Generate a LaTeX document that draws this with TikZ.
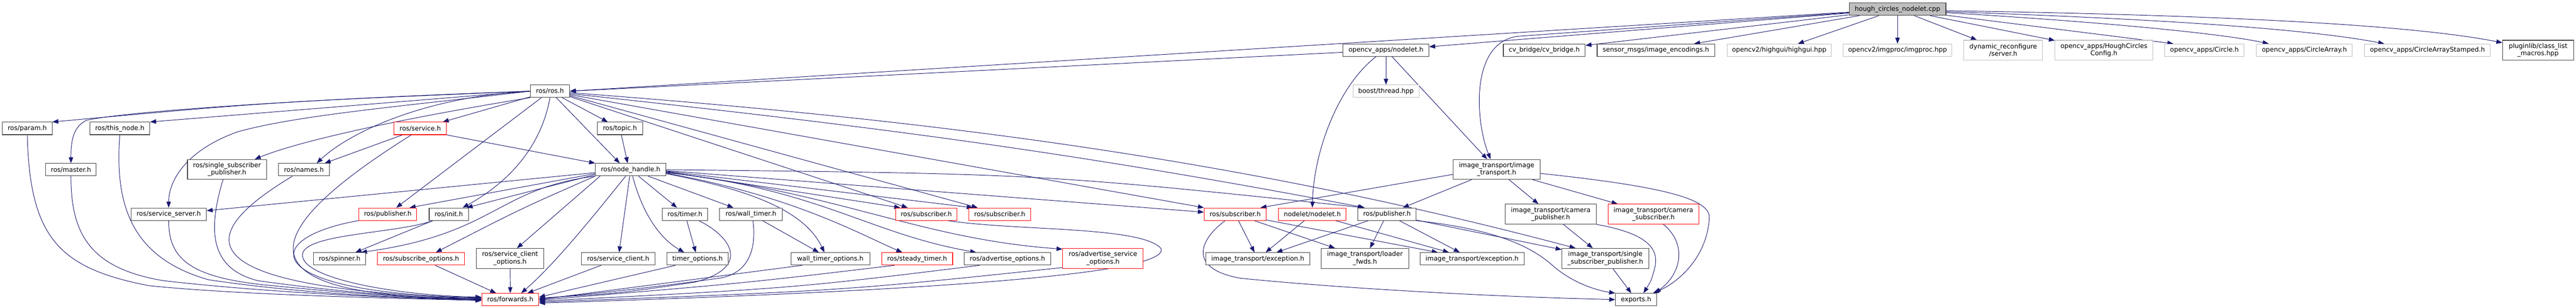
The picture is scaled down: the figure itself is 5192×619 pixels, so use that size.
\documentclass[tikz,border=0pt]{standalone}
\usepackage{fontspec}
\setmainfont{DejaVu Sans}
\usetikzlibrary{arrows.meta,calc}
\pgfdeclarelayer{bg}
\pgfsetlayers{bg,main}
\definecolor{edgec}{HTML}{191970}
\definecolor{nodeb}{HTML}{404040}
\definecolor{greyb}{HTML}{BFBFBF}
\definecolor{redb}{HTML}{FF0000}
\definecolor{rootf}{HTML}{BFBFBF}
\newcommand\dxfont{\fontsize{13pt}{14.7pt}\selectfont}
\tikzset{
  nbox/.style={draw=nodeb, line width=1.1pt, fill=white, inner sep=0pt, align=center, font=\dxfont, text=black, minimum height=25pt},
  dbl/.style={minimum height=40pt},
  gbox/.style={nbox, draw=greyb},
  rbox/.style={nbox, draw=redb},
  edge/.style={draw=edgec, line width=1pt, -{Triangle[length=12pt,width=9pt]}},
}
\begin{document}
\begin{tikzpicture}[x=1pt,y=-1pt]
\useasboundingbox (0,0) rectangle (5192,619);
% ---- nodes ----
\node[nbox, fill=rootf, minimum width=195pt] (H) at (3824.5,18.5) {hough\_circles\_nodelet.cpp};
\node[nbox, minimum width=173pt] (N1) at (2793.5,101) {opencv\_apps/nodelet.h};
\node[nbox, minimum width=165pt] (N2) at (3112.5,101) {cv\_bridge/cv\_bridge.h};
\node[nbox, minimum width=237pt] (N3) at (3337.5,101) {sensor\_msgs/image\_encodings.h};
\node[gbox, minimum width=210pt] (N4) at (3586,101) {opencv2/highgui/highgui.hpp};
\node[gbox, minimum width=219pt] (N5) at (3824.5,101) {opencv2/imgproc/imgproc.hpp};
\node[gbox, dbl, minimum width=159pt] (N6) at (4037.5,101) {dynamic\_reconfigure\\/server.h};
\node[gbox, dbl, minimum width=197pt] (N7) at (4240.5,101) {opencv\_apps/HoughCircles\\Config.h};
\node[gbox, minimum width=160pt] (N8) at (4443,101) {opencv\_apps/Circle.h};
\node[gbox, minimum width=193pt] (N9) at (4644.5,101) {opencv\_apps/CircleArray.h};
\node[gbox, minimum width=253pt] (N10) at (4892.5,101) {opencv\_apps/CircleArrayStamped.h};
\node[nbox, dbl, minimum width=143pt] (N11) at (5115.5,101) {pluginlib/class\_list\\\_macros.hpp};
\node[nbox, minimum width=79pt] (R) at (1108.5,183.5) {ros/ros.h};
\node[gbox, minimum width=133pt] (BT) at (2793.5,183.5) {boost/thread.hpp};
\node[nbox, minimum width=100pt] (P) at (55,258.5) {ros/param.h};
\node[nbox, minimum width=121pt] (T) at (241.5,258.5) {ros/this\_node.h};
\node[rbox, minimum width=106pt] (SV) at (847,258.5) {ros/service.h};
\node[nbox, minimum width=91pt] (TP) at (1249.5,258.5) {ros/topic.h};
\node[nbox, minimum width=102pt] (M) at (143,341.5) {ros/master.h};
\node[nbox, dbl, minimum width=159pt] (SSP1) at (457.5,341) {ros/single\_subscriber\\\_publisher.h};
\node[nbox, minimum width=103pt] (NM) at (612.5,341.5) {ros/names.h};
\node[nbox, minimum width=142pt] (NH) at (1271,341.5) {ros/node\_handle.h};
\node[nbox, dbl, minimum width=175pt] (IT) at (3016.5,341) {image\_transport/image\\\_transport.h};
\node[nbox, minimum width=152pt] (SS) at (340,431) {ros/service\_server.h};
\node[rbox, minimum width=117pt] (PB) at (781.5,431) {ros/publisher.h};
\node[nbox, minimum width=79pt] (IN) at (904.5,431) {ros/init.h};
\node[nbox, minimum width=91pt] (TM) at (1380.5,431) {ros/timer.h};
\node[nbox, minimum width=127pt] (WT) at (1513.5,431) {ros/wall\_timer.h};
\node[rbox, minimum width=124pt] (S1) at (1867,431) {ros/subscriber.h};
\node[rbox, minimum width=124pt] (S2) at (2015,431) {ros/subscriber.h};
\node[rbox, minimum width=125pt] (S3) at (2489.5,431) {ros/subscriber.h};
\node[rbox, minimum width=136pt] (NL) at (2645,431) {nodelet/nodelet.h};
\node[nbox, minimum width=117pt] (PB2) at (2795.5,431) {ros/publisher.h};
\node[nbox, dbl, minimum width=183pt] (CP) at (3125.5,431) {image\_transport/camera\\\_publisher.h};
\node[rbox, dbl, minimum width=183pt] (CS) at (3332.5,431) {image\_transport/camera\\\_subscriber.h};
\node[nbox, minimum width=105pt] (SP) at (684.5,521) {ros/spinner.h};
\node[rbox, minimum width=175pt] (SO) at (848.5,521) {ros/subscribe\_options.h};
\node[nbox, dbl, minimum width=136pt] (SCO) at (1028,520) {ros/service\_client\\\_options.h};
\node[nbox, minimum width=148pt] (SC) at (1246,521) {ros/service\_client.h};
\node[nbox, minimum width=124pt] (TO) at (1406,521) {timer\_options.h};
\node[nbox, minimum width=159pt] (WTO) at (1673.5,521) {wall\_timer\_options.h};
\node[rbox, minimum width=143pt] (ST) at (1848.5,521) {ros/steady\_timer.h};
\node[nbox, minimum width=175pt] (AO) at (2030.5,521) {ros/advertise\_options.h};
\node[rbox, dbl, minimum width=162pt] (ASO) at (2223,520) {ros/advertise\_service\\\_options.h};
\node[nbox, minimum width=210pt] (E1) at (2535,521) {image\_transport/exception.h};
\node[nbox, dbl, minimum width=176pt] (LF) at (2751,520) {image\_transport/loader\\\_fwds.h};
\node[nbox, minimum width=210pt] (E2) at (2967,521) {image\_transport/exception.h};
\node[nbox, dbl, minimum width=175pt] (SSP2) at (3235.5,520) {image\_transport/single\\\_subscriber\_publisher.h};
\node[rbox, minimum width=115pt] (FW) at (1028.5,603) {ros/forwards.h};
\node[nbox, minimum width=83pt] (EX) at (3297.5,603) {exports.h};
% ---- edges ----
\begin{pgfonlayer}{bg}
\fill[white] (0,0) rectangle (5192,619);
% from root
\draw[edge] (H) -- (R.east);
\draw[edge] (H) -- (N1);
\draw[edge] (H) -- (3060,73) .. controls (2960,85) and (2975,250) .. ($(IT.north)+(-12,0)$);
\draw[edge] (H) -- (N2);
\draw[edge] (H) -- (N3);
\draw[edge] (H) -- (N4);
\draw[edge] (H) -- (N5);
\draw[edge] (H) -- (N6);
\draw[edge] (H) -- (N7);
\draw[edge] (H) -- ($(N8.north west)+(18,0)$);
\draw[edge] ($(H.east)+(0,7)$) .. controls (4250,45) and (4480,68) .. ($(N9.north west)+(25,0)$);
\draw[edge] ($(H.east)+(0,5)$) .. controls (4350,38) and (4650,58) .. ($(N10.north west)+(40,0)$);
\draw[edge] ($(H.east)+(0,3)$) .. controls (4450,30) and (4850,48) .. ($(N11.west)+(0,-15)$);
% opencv_apps/nodelet.h
\draw[edge] (N1) -- (R.east);
\draw[edge] (N1) -- (BT);
\draw[edge] (N1) -- (IT);
\draw[edge] ($(N1.south)+(-20,0)$) .. controls (2700,170) and (2648,300) .. (NL.north);
% ros/ros.h
\draw[edge] (R.west) .. controls (550,205) .. (P.north east);
\draw[edge] (R.west) .. controls (600,200) and (250,225) .. (175,242) .. controls (145,255) and (143,290) .. (M.north);
\draw[edge] (R.west) -- (T.north east);
\draw[edge] (R.west) .. controls (800,215) and (600,232) .. (480,265) .. controls (380,300) and (340,360) .. (SS.north);
\draw[edge] (R.south west) .. controls (800,240) and (600,285) .. ($(SSP1.north)+(56,0)$);
\draw[edge] (R.west) .. controls (850,195) and (700,270) .. ($(NM.north)+(26,0)$);
\draw[edge] (R) -- (SV);
\draw[edge] (R) -- (PB);
\draw[edge] (R.south) .. controls (1090,300) and (1020,370) .. ($(IN.north)+(28,0)$);
\draw[edge] (R) -- (TP);
\draw[edge] (R) -- ($(NH.north)+(-22,0)$);
\draw[edge] ($(R.east)+(0,3)$) .. controls (1848,239) and (2475,314) .. ($(SSP2.north)+(-60,0)$);
\draw[edge] ($(R.east)+(0,5)$) .. controls (1748,253) and (2151,304) .. ($(PB2.north west)+(14,0)$);
\draw[edge] ($(R.east)+(0,7)$) -- (S3.north west);
\draw[edge] ($(R.east)+(0,9)$) -- ($(S2.north west)+(18,0)$);
\draw[edge] ($(R.south east)+(0,-2)$) -- ($(S1.north west)+(25,0)$);
% topic, service, names
\draw[edge] (TP) -- ($(NH.north)+(-6,0)$);
\draw[edge] (SV) -- ($(NM.north)+(42,0)$);
\draw[edge] (SV.south east) -- (NH.north west);
\draw[edge] ($(SV.south)+(-18,0)$) .. controls (560,440) and (420,600) .. ($(FW.west)+(0,-3)$);
\draw[edge] ($(NM.south)+(-23,0)$) .. controls (380,480) and (380,580) .. ($(FW.west)+(0,-2)$);
% left nodes to forwards
\draw[edge] (P.south) .. controls (60,480) and (120,540) .. (300,575) .. controls (500,595) and (800,600) .. ($(FW.west)+(0,2)$);
\draw[edge] (M.south) .. controls (143,470) and (180,540) .. (330,565) .. controls (550,590) and (800,600) .. ($(FW.west)+(0,1)$);
\draw[edge] (T.south) .. controls (230,420) and (270,520) .. (420,563) .. controls (600,590) and (800,600) .. ($(FW.west)+(0,0)$);
\draw[edge] (SS.south) .. controls (340,520) and (380,560) .. (550,575) .. controls (750,595) and (850,600) .. ($(FW.west)+(0,-1)$);
\draw[edge] ($(SSP1.south)+(-8,0)$) .. controls (420,460) and (420,540) .. (520,565) .. controls (700,590) and (850,600) .. ($(FW.west)+(0,-1)$);
\draw[edge] (PB.south west) .. controls (520,480) and (520,590) .. ($(FW.west)+(0,-4)$);
\draw[edge] ($(IN.south west)+(8,0)$) .. controls (800,470) and (620,470) .. (610,510) .. controls (600,560) and (800,595) .. ($(FW.west)+(0,-5)$);
\draw[edge] (IN) -- (SP);
\draw[edge] (SO) -- (FW);
\draw[edge] (SCO) -- (FW);
% node_handle
\draw[edge] ($(NH.west)+(0,6)$) -- ($(SS.east)+(0,-7)$);
\draw[edge] ($(NH.west)+(0,8)$) -- ($(PB.north east)+(-15,0)$);
\draw[edge] ($(NH.west)+(0,10)$) -- ($(IN.north east)+(-4,0)$);
\draw[edge] (NH.south west) .. controls (1000,380) and (1000,470) .. ($(SP.north east)+(-10,0)$);
\draw[edge] (NH.south west) .. controls (1050,420) .. ($(SO.north)+(30,0)$);
\draw[edge] ($(NH.south west)+(10,0)$) -- ($(SCO.north)+(14,0)$);
\draw[edge] ($(NH.south)+(-10,0)$) .. controls (1200,430) and (1120,530) .. ($(FW.north)+(22,0)$);
\draw[edge] (NH) -- (TM);
\draw[edge] (NH) -- (WT);
\draw[edge] (NH) -- (SC);
\draw[edge] ($(NH.south)+(4,0)$) .. controls (1295,430) and (1330,480) .. ($(TO.north)+(-27,0)$);
\draw[edge] ($(NH.east)+(0,8)$) .. controls (1500,380) and (1620,420) .. ($(WTO.north)+(-12,0)$);
\draw[edge] ($(NH.east)+(0,7)$) .. controls (1600,395) and (1730,470) .. ($(ST.north)+(-30,0)$);
\draw[edge] ($(NH.east)+(0,6)$) .. controls (1650,380) and (1750,470) .. ($(AO.north west)+(25,0)$);
\draw[edge] ($(NH.east)+(0,5)$) .. controls (1700,390) and (1850,480) .. ($(ASO.north west)+(0,2)$);
\draw[edge] ($(NH.east)+(0,4)$) -- ($(S1.north west)+(10,0)$);
\draw[edge] ($(NH.east)+(0,3)$) -- ($(S2.north west)+(8,0)$);
\draw[edge] ($(NH.east)+(0,2)$) -- ($(S3.west)+(0,-4)$);
\draw[edge] (NH.east) .. controls (2100,350) .. ($(PB2.north west)+(12,0)$);
% timers and options to forwards
\draw[edge] (TM) -- (TO);
\draw[edge] ($(TM.south)+(28,0)$) .. controls (1480,480) and (1510,540) .. (1400,568) .. controls (1250,590) .. ($(FW.east)+(0,-3)$);
\draw[edge] (WT) -- (WTO);
\draw[edge] ($(WT.south)+(4,0)$) .. controls (1525,500) and (1510,550) .. (1450,560) .. controls (1300,580) .. ($(FW.east)+(0,-1)$);
\draw[edge] (SC) -- (FW);
\draw[edge] ($(TO.south west)+(18,0)$) -- ($(FW.east)+(0,-5)$);
\draw[edge] ($(WTO.south west)+(23,0)$) -- (FW.east);
\draw[edge] ($(ST.south west)+(26,0)$) .. controls (1500,570) .. ($(FW.east)+(0,1)$);
\draw[edge] ($(AO.south west)+(32,0)$) .. controls (1600,580) .. ($(FW.east)+(0,3)$);
\draw[edge] ($(ASO.south west)+(0,-2)$) .. controls (1700,585) .. ($(FW.east)+(0,5)$);
\draw[edge] ($(S1.south)+(43,0)$) .. controls (2050,465) and (2300,455) .. (2340,500) .. controls (2360,550) and (1900,585) .. ($(FW.east)+(0,7)$);
% image_transport/image_transport.h
\draw[edge] (IT) -- (PB2);
\draw[edge] ($(IT.west)+(0,10)$) -- ($(S3.north east)+(-12,0)$);
\draw[edge] (IT) -- (CP);
\draw[edge] (IT) -- (CS);
\draw[edge] ($(IT.east)+(0,8)$) .. controls (3350,375) and (3450,400) .. (3445,440) .. controls (3440,520) and (3380,570) .. ($(EX.north east)+(-8,0)$);
% publisher (image_transport)
\draw[edge] (PB2) -- (E1);
\draw[edge] (PB2) -- (LF);
\draw[edge] (PB2) -- (E2);
\draw[edge] (PB2) -- (SSP2);
\draw[edge] (PB2.south east) .. controls (3000,460) and (3080,490) .. (3130,535) .. controls (3170,570) and (3220,585) .. (EX.north west);
% subscriber (image_transport)
\draw[edge] (S3) -- (E1);
\draw[edge] (S3) -- (LF);
\draw[edge] (S3) -- (E2);
\draw[edge] ($(S3.south)+(-20,0)$) .. controls (2420,480) and (2390,540) .. (2500,560) .. controls (2700,580) and (3000,597) .. (EX.west);
% nodelet
\draw[edge] (NL) -- (E1);
\draw[edge] (NL) -- (E2);
% camera publisher / subscriber
\draw[edge] (CP) -- (SSP2);
\draw[edge] (CP.south east) .. controls (3320,470) and (3345,500) .. (3335,540) .. controls (3328,565) .. ($(EX.north)+(15,0)$);
\draw[edge] ($(CS.south)+(20,0)$) .. controls (3400,490) and (3390,550) .. ($(EX.north east)+(-4,0)$);
\draw[edge] (SSP2) -- (EX);
\end{pgfonlayer}
\end{tikzpicture}
\end{document}
